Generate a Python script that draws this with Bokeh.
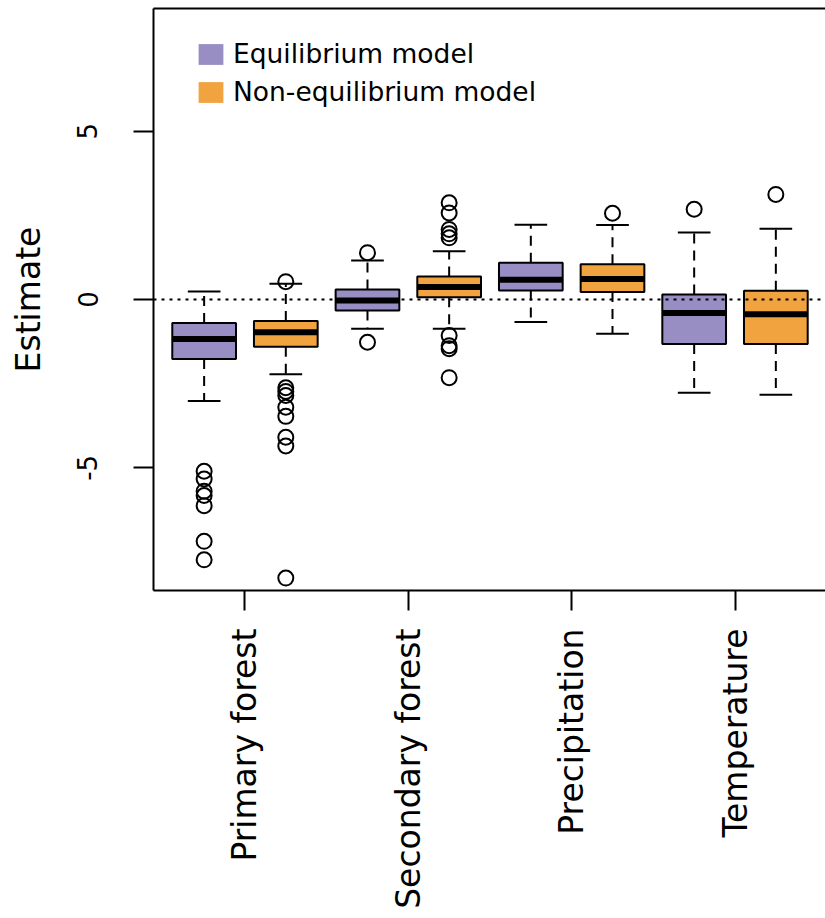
import math
from bokeh.plotting import figure
from bokeh.models import (ColumnDataSource, Span, FixedTicker, LinearAxis, Legend,
                          LegendItem, Range1d)
from bokeh.embed import file_html
from bokeh.resources import INLINE

categories = ["Primary forest", "Secondary forest", "Precipitation", "Temperature"]
models = ["Equilibrium model", "Non-equilibrium model"]
colors = ["#998ec3", "#f1a340"]

# boxes in order: PF eq, PF non-eq, SF eq, SF non-eq, Prec eq, Prec non-eq, Temp eq, Temp non-eq
lower_whisker = [-3.01, -2.22, -0.87, -0.87, -0.67, -1.02, -2.77, -2.83]
q1 = [-1.77, -1.40, -0.33, 0.07, 0.27, 0.22, -1.32, -1.32]
median = [-1.17, -0.97, -0.03, 0.37, 0.59, 0.61, -0.40, -0.44]
q3 = [-0.70, -0.64, 0.30, 0.68, 1.09, 1.05, 0.15, 0.26]
upper_whisker = [0.24, 0.47, 1.16, 1.43, 2.22, 2.21, 1.99, 2.10]
outliers = [
    [-5.10, -5.33, -5.69, -5.82, -6.12, -7.18, -7.73],
    [0.53, -2.62, -2.73, -2.85, -3.20, -3.47, -4.09, -4.35, -8.27],
    [1.39, -1.27],
    [2.87, 2.57, 2.08, 1.95, 1.83, -1.07, -1.37, -1.46, -2.32],
    [],
    [2.56],
    [2.68],
    [3.12],
]
y_ticks = [-5, 0, 5]
y_tick_labels = ["-5", "0", "5"]

n = len(q1)
pos = [i + 1 for i in range(n)]
box_colors = [colors[i % 2] for i in range(n)]
half_w = 0.39
half_staple = 0.2

FONT = "DejaVu Sans"

p = figure(width=825, height=916,
           x_range=Range1d(0.38, 8.608), y_range=Range1d(-8.64, 8.64),
           output_backend="svg", toolbar_location=None,
           min_border_left=153, min_border_right=0, min_border_top=8,
           min_border_bottom=326)
p.outline_line_color = None
p.xgrid.visible = False
p.ygrid.visible = False
p.background_fill_color = "white"

src = ColumnDataSource(dict(
    x=pos,
    left=[x - half_w for x in pos], right=[x + half_w for x in pos],
    sl=[x - half_staple for x in pos], sr=[x + half_staple for x in pos],
    q1=q1, q3=q3, med=median, lo=lower_whisker, hi=upper_whisker, color=box_colors,
))

# whiskers
p.segment(x0="x", x1="x", y0="q3", y1="hi", source=src, line_color="black",
          line_width=2, line_dash="10 7")
p.segment(x0="x", x1="x", y0="q1", y1="lo", source=src, line_color="black",
          line_width=2, line_dash="10 7")
# staples
p.segment(x0="sl", x1="sr", y0="hi", y1="hi", source=src, line_color="black", line_width=2)
p.segment(x0="sl", x1="sr", y0="lo", y1="lo", source=src, line_color="black", line_width=2)
# boxes
p.quad(left="left", right="right", bottom="q1", top="q3", source=src,
       fill_color="color", line_color="black", line_width=2)
# medians
p.segment(x0="left", x1="right", y0="med", y1="med", source=src,
          line_color="black", line_width=6)

# outliers
ox, oy = [], []
for i, vals in enumerate(outliers):
    for v in vals:
        ox.append(pos[i])
        oy.append(v)
p.scatter(x=ox, y=oy, marker="circle", size=15, fill_color=None,
          line_color="black", line_width=2)

# zero line
p.add_layout(Span(location=0, dimension="width", line_color="black",
                  line_width=2, line_dash="3 5"))

# axes
yax = p.yaxis[0]
yax.ticker = FixedTicker(ticks=y_ticks, minor_ticks=[])
yax.major_label_overrides = {t: s for t, s in zip(y_ticks, y_tick_labels)}
yax.axis_line_width = 2
yax.major_tick_line_width = 2
yax.major_tick_out = 20
yax.major_tick_in = 0
yax.minor_tick_line_color = None
yax.major_label_orientation = "vertical"
yax.major_label_text_font = FONT
yax.major_label_text_font_size = "26px"
yax.major_label_text_color = "black"
yax.major_label_standoff = 36
yax.axis_label = "Estimate"
yax.axis_label_text_font = FONT
yax.axis_label_text_font_size = "33px"
yax.axis_label_text_font_style = "normal"
yax.axis_label_text_color = "black"
yax.axis_label_standoff = 27

xax = p.xaxis[0]
xticks = [2 * g + 1.5 for g in range(len(categories))]
xax.ticker = FixedTicker(ticks=xticks, minor_ticks=[])
xax.major_label_overrides = {t: c for t, c in zip(xticks, categories)}
xax.axis_line_width = 2
xax.major_tick_line_width = 2
xax.major_tick_out = 20
xax.major_tick_in = 0
xax.minor_tick_line_color = None
xax.major_label_orientation = math.pi / 2
xax.major_label_text_font = FONT
xax.major_label_text_font_size = "33px"
xax.major_label_text_color = "black"
xax.major_label_standoff = 18

top = LinearAxis(ticker=FixedTicker(ticks=[], minor_ticks=[]), axis_line_width=2,
                 major_tick_line_color=None, minor_tick_line_color=None,
                 major_label_text_font_size="0px", major_tick_out=0, major_tick_in=0,
                 major_label_standoff=0)
p.add_layout(top, "above")

# legend (swatches only; the dummy glyphs have no drawable position)
nan = float("nan")
r_eq = p.quad(left=[nan], right=[nan], top=[nan], bottom=[nan],
              fill_color=colors[0], line_color=None)
r_neq = p.quad(left=[nan], right=[nan], top=[nan], bottom=[nan],
               fill_color=colors[1], line_color=None)
legend = Legend(items=[LegendItem(label=models[0], renderers=[r_eq]),
                       LegendItem(label=models[1], renderers=[r_neq])],
                location=(42, 483), glyph_width=31, glyph_height=26, label_standoff=7,
                spacing=7, padding=0, margin=0, border_line_color=None,
                background_fill_alpha=0, label_text_font=FONT,
                label_text_color="black",
                label_text_font_size="26.5px", label_height=30)
p.add_layout(legend)

open("out.html", "w").write(file_html(p, INLINE))
